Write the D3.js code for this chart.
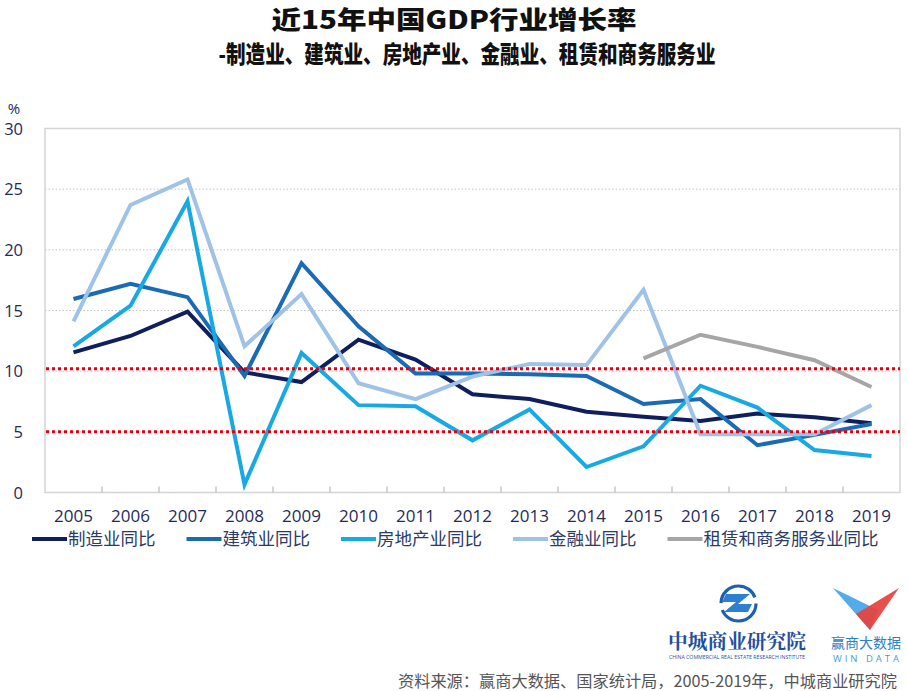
<!DOCTYPE html>
<html>
<head>
<meta charset="utf-8">
<script src="https://cdn.jsdelivr.net/npm/d3@7"></script>
<style>
  html, body { margin: 0; padding: 0; background: #fff; }
  svg { display: block; }
</style>
</head>
<body>
<svg id="chart" width="908" height="691"></svg>
<script>
// ---------------- DATA ----------------
const years = ["2005","2006","2007","2008","2009","2010","2011","2012","2013","2014","2015","2016","2017","2018","2019"];
const manufacturing = [11.55, 12.9, 14.9, 9.9, 9.1, 12.6, 10.95, 8.1, 7.7, 6.65, 6.25, 5.9, 6.5, 6.2, 5.7];
const construction  = [15.95, 17.2, 16.1, 9.6, 18.9, 13.7, 9.8, 9.8, 9.75, 9.6, 7.3, 7.7, 3.9, 4.75, 5.65];
const realEstate    = [12.05, 15.4, 24.0, 0.65, 11.5, 7.2, 7.1, 4.3, 6.85, 2.1, 3.8, 8.8, 7.0, 3.5, 3.0];
const finance       = [14.1, 23.7, 25.8, 12.05, 16.35, 9.0, 7.7, 9.55, 10.6, 10.5, 16.7, 4.8, 4.8, 4.8, 7.2];
const leasing       = [null, null, null, null, null, null, null, null, null, null, 11.05, 13.0, 12.0, 10.9, 8.7];
const seriesNames   = ["制造业同比", "建筑业同比", "房地产业同比", "金融业同比", "租赁和商务服务业同比"];
const yTicks        = [0, 5, 10, 15, 20, 25, 30];
const refLines      = [10.2, 5];
const titleText     = "近15年中国GDP行业增长率";
const subtitleText  = "-制造业、建筑业、房地产业、金融业、租赁和商务服务业";
const sourceText    = "资料来源：赢商大数据、国家统计局，2005-2019年，中城商业研究院";

// ---------------- STYLE ----------------
const colors = ["#0f1f5e", "#1a6bb4", "#18a9e3", "#9fc2e7", "#a6a6a6"];
const cjk = "'Noto Sans CJK SC', 'Microsoft YaHei', sans-serif";
const num = "'Open Sans', 'Noto Sans', sans-serif";
const axisText = "#1f2b5b";

const svg = d3.select("#chart");
const pLeft = 45, pRight = 900, pTop = 128.5, pBottom = 492.5;

const x = d3.scaleBand().domain(years).range([pLeft, pRight]).padding(0);
const y = d3.scaleLinear().domain([0, 30]).range([pBottom, pTop]);
const cx = d => x(d) + x.bandwidth() / 2;

// Titles
svg.append("text").attr("x", 454).attr("y", 29)
  .attr("text-anchor", "middle").attr("font-family", cjk).attr("font-weight", 900)
  .attr("font-size", 25).attr("fill", "#111")
  .attr("textLength", 365).attr("lengthAdjust", "spacingAndGlyphs")
  .text(titleText);
svg.append("text").attr("x", 467).attr("y", 63)
  .attr("text-anchor", "middle").attr("font-family", cjk).attr("font-weight", 900)
  .attr("font-size", 24).attr("fill", "#111")
  .attr("textLength", 497).attr("lengthAdjust", "spacingAndGlyphs")
  .text(subtitleText);

// Gridlines (dotted)
svg.append("g").selectAll("line").data(yTicks.filter(t => t > 0 && t < 30)).join("line")
  .attr("x1", pLeft).attr("x2", pRight).attr("y1", d => y(d)).attr("y2", d => y(d))
  .attr("stroke", "#c4c4c4").attr("stroke-width", 1).attr("stroke-dasharray", "1.5,2");

// Frame
svg.append("rect").attr("x", pLeft).attr("y", pTop).attr("width", pRight - pLeft).attr("height", pBottom - pTop)
  .attr("fill", "none").attr("stroke", "#d4d4d4").attr("stroke-width", 1.5);

// Y axis labels
const yAxis = d3.axisLeft(y).tickValues(yTicks).tickSize(0).tickPadding(0);
const yg = svg.append("g").attr("transform", `translate(23,0)`).call(yAxis);
yg.select(".domain").remove();
yg.selectAll("text").attr("font-family", num).attr("font-size", 16.5).attr("fill", axisText)
  .attr("x", 0).attr("dy", "0.35em");
svg.append("text").attr("x", 14).attr("y", 114).attr("text-anchor", "middle")
  .attr("font-family", num).attr("font-size", 15).attr("fill", axisText).text("%");

// X axis
const xAxis = d3.axisBottom(x).tickSize(0).tickPadding(0);
const xg = svg.append("g").attr("transform", `translate(0,${pBottom})`).call(xAxis);
xg.select(".domain").remove();
xg.selectAll("text").attr("font-family", num).attr("font-size", 17).attr("fill", axisText)
  .attr("y", 0).attr("dy", "1.75em");
// inner tick marks at band boundaries
svg.append("g").selectAll("line").data(years.slice(1)).join("line")
  .attr("x1", d => x(d)).attr("x2", d => x(d)).attr("y1", pBottom).attr("y2", pBottom - 6)
  .attr("stroke", "#c8c8c8").attr("stroke-width", 1.5);

// Lines
const allSeries = [manufacturing, construction, realEstate, finance, leasing];
const line = d3.line().defined(d => d.v != null).x(d => cx(d.year)).y(d => y(d.v));
svg.append("g").selectAll("path").data(allSeries).join("path")
  .attr("d", s => line(s.map((v, i) => ({ year: years[i], v }))))
  .attr("fill", "none").attr("stroke", (s, i) => colors[i]).attr("stroke-width", 4);

// Red dotted reference lines
svg.append("g").selectAll("line").data(refLines).join("line")
  .attr("x1", pLeft + 1).attr("x2", pRight).attr("y1", d => y(d)).attr("y2", d => y(d))
  .attr("stroke", "#e3000f").attr("stroke-width", 3).attr("stroke-dasharray", "3,3");

// Legend
const lg = svg.append("g");
let lx = 32;
seriesNames.forEach((name, i) => {
  lg.append("line").attr("x1", lx).attr("x2", lx + 35).attr("y1", 539).attr("y2", 539)
    .attr("stroke", colors[i]).attr("stroke-width", 4);
  const t = lg.append("text").attr("x", lx + 36).attr("y", 539).attr("dy", "0.36em")
    .attr("font-family", cjk).attr("font-size", 17.5).attr("fill", "#2b3a67").text(name);
  lx += 36 + t.node().getComputedTextLength() + 31;
});

// Logo 1: 中城商业研究院
const logo1 = svg.append("g");
logo1.append("circle").attr("cx", 738.5).attr("cy", 603.5).attr("r", 17.5)
  .attr("fill", "none").attr("stroke", "#1f5fb2").attr("stroke-width", 3.2)
  .attr("stroke-dasharray", "48,7,48,7");
logo1.append("path").attr("d", "M726,594 L750,594 L738,604 L752,604 L748,612 L724,612 L736,602 L722,602 Z")
  .attr("fill", "#2d7fd0");
logo1.append("text").attr("x", 737).attr("y", 649).attr("text-anchor", "middle")
  .attr("font-family", "'Noto Serif CJK SC', serif").attr("font-weight", 700).attr("font-size", 20)
  .attr("fill", "#1f4f9e").attr("textLength", 138).attr("lengthAdjust", "spacingAndGlyphs").text("中城商业研究院");
logo1.append("text").attr("x", 737).attr("y", 659).attr("text-anchor", "middle")
  .attr("font-family", num).attr("font-size", 4.5).attr("fill", "#1f4f9e")
  .attr("textLength", 136).attr("lengthAdjust", "spacingAndGlyphs").text("CHINA COMMERCIAL REAL ESTATE RESEARCH INSTITUTE");

// Logo 2: WIN DATA
const logo2 = svg.append("g");
logo2.append("path").attr("d", "M833,588 L870,630 L878,610 Z").attr("fill", "#4aa8e8").attr("opacity", 0.95);
logo2.append("path").attr("d", "M899,588 L870,630 L856,614 Z").attr("fill", "#e8413c").attr("opacity", 0.92);
logo2.append("text").attr("x", 866).attr("y", 648).attr("text-anchor", "middle")
  .attr("font-family", cjk).attr("font-size", 14).attr("fill", "#2f7fc8")
  .attr("textLength", 70).attr("lengthAdjust", "spacingAndGlyphs").text("赢商大数据");
logo2.append("text").attr("x", 866).attr("y", 662).attr("text-anchor", "middle")
  .attr("font-family", num).attr("font-size", 9.5).attr("fill", "#4a9ad8")
  .attr("textLength", 66).attr("lengthAdjust", "spacing").text("WIN DATA");

// Source
svg.append("text").attr("x", 897).attr("y", 687).attr("text-anchor", "end")
  .attr("font-family", cjk).attr("font-size", 16).attr("fill", "#555")
  .attr("textLength", 499).attr("lengthAdjust", "spacingAndGlyphs").text(sourceText);
</script>
</body>
</html>
